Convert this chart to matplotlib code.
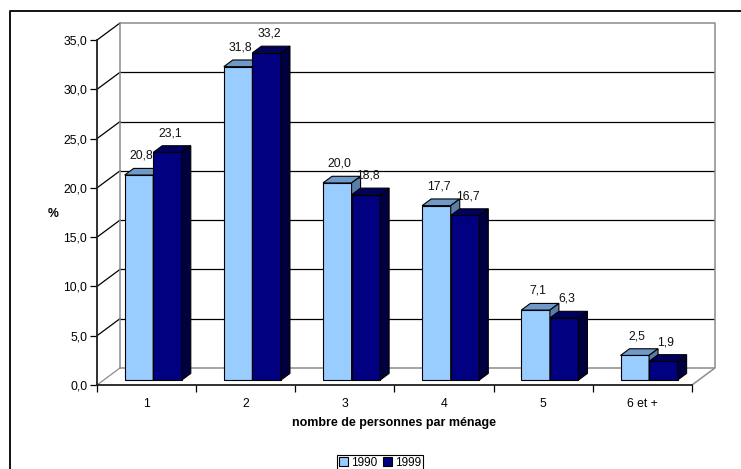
import matplotlib.pyplot as plt
from matplotlib.patches import Patch
from matplotlib.lines import Line2D

categories = ['1', '2', '3', '4', '5', '6 et +']
pct_1990 = [20.8, 31.8, 20.0, 17.7, 7.1, 2.5]
pct_1999 = [23.1, 33.2, 18.8, 16.7, 6.3, 1.9]
years = ['1990', '1999']
y_ticks = [0, 5, 10, 15, 20, 25, 30, 35]

plt.rcParams['font.family'] = ['Liberation Sans', 'DejaVu Sans']
plt.rcParams['font.size'] = 8.8


def fr(v):
    return f'{v:.1f}'.replace('.', ',')


W, H = 741, 469
X0, X1 = 97, 715          # front axis / right edge of back wall (px)
Y0, Y1 = 385, 23          # floor front / top of back wall (px)
DX, DY = 0.232, 1.73      # wall depth in data units
YMAX = 35
n = len(categories)

fig = plt.figure(figsize=(W / 100, H / 100), dpi=100)
ax = fig.add_axes([X0 / W, 1 - Y0 / H, (X1 - X0) / W, (Y0 - Y1) / H])
ax.set_xlim(-0.5, n - 0.5 + DX)
ax.set_ylim(0, YMAX + DY)

grey = '#8c8c8c'
xl, xr = -0.5, n - 0.5
# side wall diagonals and back wall grid
for t in y_ticks:
    ax.plot([xl, xl + DX], [t, t + DY], color=grey if t == 0 else 'black',
            lw=0.9, clip_on=False, zorder=1)
    if 0 < t < YMAX:
        ax.plot([xl + DX, xr + DX], [t + DY, t + DY], color='black',
                lw=0.9, zorder=1)
ax.plot([xl + DX, xl + DX, xr + DX, xr + DX, xr],
        [DY, YMAX + DY, YMAX + DY, DY, 0], color=grey, lw=1.1,
        clip_on=False, zorder=1)
ax.plot([xl + DX, xr + DX], [DY, DY], color=grey, lw=1.1, zorder=1)

# 3D-looking bars
F0, F1 = 0.29, 0.68
BW = 0.288
b0 = F0 * DY
ddx, ddy = (F1 - F0) * DX, (F1 - F0) * DY
styles = [('#99ccff', '#6f99c9', '#5a7fa6'), ('#000080', '#00005e', '#000040')]
for k, vals in enumerate([pct_1990, pct_1999]):
    front, top, side = styles[k]
    xs = [i - BW + k * BW + F0 * DX for i in range(n)]
    ax.bar(xs, vals, width=BW, bottom=b0, align='edge', color=front,
           edgecolor='black', lw=0.8, zorder=3)
    for x, v in zip(xs, vals):
        ax.fill([x, x + BW, x + BW + ddx, x + ddx],
                [v + b0, v + b0, v + b0 + ddy, v + b0 + ddy],
                facecolor=top, edgecolor='black', lw=0.8, zorder=3)
        ax.fill([x + BW, x + BW + ddx, x + BW + ddx, x + BW],
                [b0, b0 + ddy, v + b0 + ddy, v + b0],
                facecolor=side, edgecolor='black', lw=0.8, zorder=3)
        ax.text(x + (BW + ddx) / 2 - 0.02, v + b0 + 1.95, fr(v),
                ha='center', va='center', color='#111111', zorder=4)

for s in ['top', 'right']:
    ax.spines[s].set_visible(False)
ax.spines['left'].set_bounds(0, YMAX)
ax.spines['bottom'].set_bounds(xl, xr)
for s in ['left', 'bottom']:
    ax.spines[s].set_linewidth(1.3)
    ax.spines[s].set_color('#202020')
    ax.spines[s].set_zorder(5)

ax.set_yticks(y_ticks)
ax.set_yticklabels([fr(t) for t in y_ticks])
ax.tick_params(axis='y', direction='out', length=5, width=0.9, pad=2)
ax.set_xticks(range(n))
ax.set_xticklabels(categories)
ax.set_xticks([i - 0.5 for i in range(n + 1)], minor=True)
ax.tick_params(axis='x', which='major', length=0, pad=9)
ax.tick_params(axis='x', which='minor', direction='out', length=5, width=0.9)

fig.text(53 / W, 1 - 214 / H, '%', ha='center', va='center', weight='bold')
fig.text(394 / W, 1 - 423 / H, 'nombre de personnes par ménage',
         ha='center', va='center', weight='bold', fontsize=9)

handles = [Patch(facecolor=styles[k][0], edgecolor='black', lw=0.8, label=years[k])
           for k in range(2)]
leg = fig.legend(handles=handles, loc='upper center',
                 bbox_to_anchor=(380 / W, 1 - 455 / H), ncol=2, fontsize=8.5,
                 fancybox=False, edgecolor='black', framealpha=1,
                 handlelength=0.75, handleheight=0.75, handletextpad=0.25,
                 columnspacing=0.5, borderpad=0.15, borderaxespad=0)
leg.get_frame().set_linewidth(0.8)

# outer chart frame
fig.add_artist(Line2D([10 / W, 10 / W, 1], [0, 1 - 11 / H, 1 - 11 / H],
                      transform=fig.transFigure, color='black', lw=1.3))

fig.savefig('out.png', dpi=100)
